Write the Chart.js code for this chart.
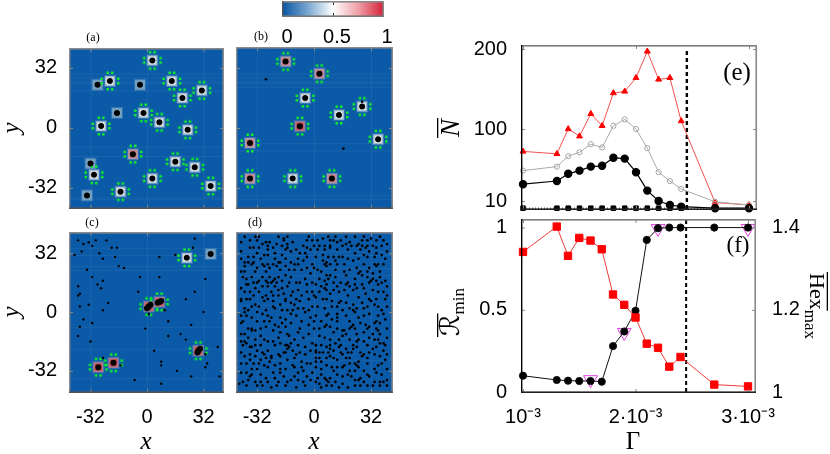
<!DOCTYPE html>
<html>
<head>
<meta charset="utf-8">
<title>Panels</title>
<script src="https://cdn.jsdelivr.net/npm/chart.js@4"></script>
<style>
    html, body { margin: 0; padding: 0; background: #fff; }
    #stage { position: relative; width: 830px; height: 454px; overflow: hidden; }
    #stage canvas { position: absolute; left: 0; top: 0; }
</style>
</head>
<body>
<div id="stage"></div>
<script>
// panel (a)
const aWhite = [[3,36],[-21,25],[14,25],[31,20],[20,16],[-2,8],[7,3],[-26,1],[23,-1],[16,-18],[27,-21],[-30,-25],[3,-27],[-15,-34],[36,-31]];
const aPink = [[-8,-14]];
const aFaint = [[-28,23],[-4,23],[-17,8],[-32,-19],[-34,-36]];
const aDots = [];

// panel (b)
const bWhite = [[-5,16],[27,11.5],[14,7],[36,-6],[-12,-27]];
const bPink = [[-16,35.5],[3,29],[-36,-8],[-36,-27],[10,-27]];
const bRed = [[-8,1]];
const bDots = [[-27,26],[16.5,-11],[27,14]];

// panel (c)
const cWhite = [[22.5,29.5]];
const cFaint = [[36,31.6]];
const cRed = [[1,3],[7,5.5],[29,-21],[-27.6,-30],[-19,-27.6]];
const cCores = [[0,2],[2,4],[6,5],[8,6],[28.5,-22],[30,-20]];
const cDots = [[-39,39],[-36,37],[-33,38],[-31,36],[-29,39],[-23,39],[-37,33],[-20,35],[-17,35],[-41,31],[-27,32],[-25,29],[-18,30],[7,30],[16,31],[26,35],[27,40],[-34,23],[-16,25],[-13,24],[-31,19],[-25,17],[-4,19],[7,19],[33,18],[-28,15],[-26,13],[-39,14],[-5,11],[-38,10],[-39,9],[27,11],[22,7],[-33,4],[-22,5],[-38,3],[-25,1],[10,1],[1,-1],[32,0],[-36,-4],[-31,-6],[25,-7],[12,-5],[-38,-8],[-1,-9],[-39,-13],[12,-13],[19,-12],[22,-15],[-32,-16],[40,-19],[33,-23],[4,-21],[-25,-25],[8,-27],[8,-29],[34,-28],[33,-30],[-15,-29],[17,-32],[25,-35],[41,-35],[-7,-37],[8,-39]];

// panel (d)
const dDots = [
    [-39,41],[-33,41],[-31,41],[-36,39],[-32,39],[-20,41],[-17,40],[-15,41],[-4,39],[-3,41],[-25,38],[-27,38],[-21,37],[-17,39],[-15,37],[-18,36],[-36,35],[-31,35],[-34,35],[-26,36],[-15,35],[-16,34],[-6,36],[-4,35],[0,36],[-8,32],[-5,32],[-4,30],[-26,34],[-22,32],[-32,32],[-37,30],[-34,30],[-30,29],[-26,31],[-22,29],[-19,27],[-20,27],[-26,26],[-28,25],[-39,27],[-37,27],[-39,25],[-35,26],[-29,26],[-23,26],[-13,27],[-11,26],[-9,29],[-9,26],[-16,25],[-11,23],[-1,26],[0,24],
    [-41,22],[-33,22],[-25,24],[-21,25],[-19,23],[-7,23],[-4,24],[-39,22],[-31,17],[-35,19],[-38,18],[-25,19],[-23,17],[-22,18],[-27,17],[-26,16],[-24,16],[-21,16],[-20,19],[-16,20],[-13,19],[-14,16],[-10,16],[-8,16],[-37,15],[-34,16],[-32,16],[-38,15],[-29,14],[-26,14],[-22,14],[-20,12],[-18,13],[-15,14],[-9,12],[-4,15],[-39,11],[-36,11],[-33,13],[-24,11],[-27,9],[-20,9],[-16,7],[-13,9],[-12,11],[-1,11],[0,9],[-41,7],[-38,7],[-41,6],[-36,7],[-29,8],[-26,7],[-23,6],[-19,4],[-16,6],[-13,5],[-11,4],[-8,6],[-3,7],[-39,2],[-37,1],[-33,4],[-31,3],[-28,6],[-23,3],[-27,1],[-22,2],[-15,1],[-12,1],[-6,2],[-1,3],
    [2,39],[5,40],[8,41],[9,39],[3,36],[6,36],[9,36],[11,39],[13,38],[15,39],[23,41],[25,37],[27,39],[30,39],[32,40],[35,39],[39,39],[18,37],[20,38],[21,36],[24,36],[30,36],[33,36],[29,35],[35,35],[38,36],[2,34],[6,34],[9,35],[13,34],[19,34],[26,34],[31,33],[35,32],[40,29],[1,30],[5,31],[8,30],[11,30],[14,30],[16,30],[19,29],[22,28],[25,29],[30,30],[34,30],[5,28],[7,27],[9,26],[13,26],[34,26],[36,26],[31,24],[35,25],[6,26],[7,25],[2,23],[17,22],[24,24],[26,22],[25,21],[7,20],[8,18],[6,17],[9,20],[30,22],[33,21],[23,18],[27,20],[33,18],[18,20],[19,16],[18,15],[20,14],[32,17],[27,15],[24,13],[22,12],[28,13],[31,16],[36,15],[38,16],[40,17],[1,15],[4,14],[6,13],[7,12],[9,10],[13,14],[3,11],[7,15],[14,11],[36,11],[41,14],[33,12],[5,7],[7,7],[10,6],[15,6],[10,3],[13,3],[31,7],[32,6],[40,7],[41,9],[22,4],[24,2],[22,1],[28,2],[34,4],[36,3],[38,1],[2,3],[6,2],[16,1],[14,5],
    [-39,0],[-38,-2],[-32,0],[-29,-1],[-26,-2],[-24,-3],[-28,-5],[-25,-5],[-22,-7],[-20,-8],[-13,-1],[-10,-2],[-5,0],[-2,-3],[0,-5],[-40,-5],[-41,-6],[-35,-9],[-35,-10],[-33,-10],[-30,-9],[-39,-12],[-41,-12],[-23,-10],[-19,-11],[-15,-12],[-14,-13],[-9,-11],[-6,-14],[-13,-6],[-8,-9],[0,-9],[-16,-8],[-37,-14],[-39,-16],[-38,-17],[-40,-18],[-33,-15],[-28,-15],[-26,-16],[-23,-16],[-22,-18],[-19,-17],[-15,-18],[-16,-18],[-13,-17],[-36,-19],[-33,-18],[-35,-19],[-1,-17],[1,-18],[-29,-22],[-32,-21],[-28,-23],[-39,-24],[-36,-23],[-33,-24],[-24,-24],[-20,-23],[-19,-24],[-17,-22],[-15,-20],[-16,-22],[-14,-19],[-8,-22],[-10,-23],[-5,-23],[1,-22],[-41,-28],[-38,-28],[-34,-28],[-30,-26],[-31,-28],[-28,-29],[-25,-27],[-24,-25],[-19,-28],[-15,-26],[-12,-29],[-4,-28],[-2,-28],[1,-27],[-35,-31],[-38,-33],[-41,-33],[-30,-34],[-26,-30],[-23,-33],[-19,-33],[-19,-31],[-11,-30],[-9,-33],[-6,-32],[-4,-35],[-35,-34],[-36,-35],[-40,-38],[-38,-40],[-42,-39],[-33,-38],[-30,-38],[-29,-40],[-26,-38],[-21,-40],[-20,-38],[-15,-38],[-13,-37],[-11,-35],[-9,-37],[-6,-38],[-5,-40],[1,-38],[-24,-41],[-32,-40],[-16,-40],[-10,-41],
    [1,-2],[7,-2],[8,-1],[13,-1],[13,-3],[23,0],[25,-3],[28,-2],[31,-1],[36,-2],[39,-1],[35,-5],[34,-6],[13,-5],[6,-8],[7,-7],[9,-8],[13,-9],[3,-9],[16,-10],[17,-10],[21,-8],[22,-7],[20,-9],[23,-9],[26,-6],[29,-7],[31,-8],[30,-9],[35,-9],[36,-10],[37,-6],[3,-13],[16,-13],[18,-12],[24,-12],[31,-14],[37,-12],[39,-17],[1,-18],[4,-18],[7,-19],[9,-15],[9,-18],[14,-15],[15,-18],[22,-18],[24,-16],[25,-15],[28,-16],[34,-15],[36,-15],[40,-18],[8,-22],[5,-22],[3,-22],[9,-20],[11,-21],[14,-19],[15,-22],[22,-20],[24,-19],[26,-22],[28,-23],[27,-24],[31,-22],[35,-19],[39,-21],[3,-25],[4,-27],[1,-25],[7,-25],[9,-24],[13,-26],[16,-23],[18,-25],[21,-22],[34,-23],[38,-28],[40,-26],[23,-28],[24,-29],[25,-27],[30,-28],[17,-29],[16,-30],[1,-30],[4,-31],[10,-30],[11,-32],[34,-31],[35,-33],[25,-30],[20,-32],[23,-32],[4,-34],[6,-36],[7,-37],[9,-36],[13,-34],[16,-35],[19,-34],[21,-35],[30,-34],[31,-35],[26,-36],[25,-37],[23,-37],[34,-38],[37,-38],[39,-38],[41,-37],[3,-39],[4,-41],[7,-40],[8,-38],[10,-40],[19,-41],[26,-40],[30,-40],[33,-40],[37,-40],[16,-39],[14,-41],
    [-41,38],[-29,37],[-23,35],[-12,38],[-10,34],[-1,39],[-41,33],[-28,31],[-18,31],[-13,33],[-2,34],[-41,29],[-34,27],[-16,29],[-6,28],[-32,24],[-27,22],[-14,23],[-2,21],[-40,19],[-29,19],[-18,17],[-5,18],[-1,16],[-41,13],[-31,11],[-17,10],[-7,9],[-4,11],[-34,9],[-23,9],[-10,7],[-35,3],[-18,1],[-9,2],[-3,1],
    [12,41],[18,41],[28,41],[37,41],[41,37],[16,36],[27,36],[41,33],[23,32],[28,31],[38,31],[12,28],[17,26],[28,26],[39,26],[4,22],[12,23],[20,23],[37,22],[12,19],[15,16],[30,19],[37,19],[11,16],[3,18],[23,15],[35,17],[17,12],[11,12],[29,10],[39,11],[19,9],[25,8],[35,7],[1,8],[18,5],[27,5],[30,3],[41,3],[20,2],
    [-41,-2],[-35,-3],[-19,-3],[-16,-4],[-7,-5],[-32,-5],[-37,-9],[-27,-8],[-18,-6],[-3,-7],[-30,-13],[-20,-14],[-11,-15],[-3,-12],[-41,-16],[-30,-18],[-9,-18],[-5,-19],[-41,-22],[-26,-21],[-12,-21],[-2,-21],[-36,-26],[-27,-25],[-11,-25],[-7,-27],[-32,-31],[-22,-29],[-16,-31],[-7,-30],[-1,-33],[-27,-36],[-17,-35],[-2,-37],[-37,-37],[-22,-36],
    [4,-5],[10,-4],[18,-2],[20,-5],[40,-4],[11,-11],[28,-11],[33,-12],[41,-9],[6,-14],[20,-15],[41,-14],[12,-17],[18,-20],[30,-18],[37,-17],[1,-21],[19,-22],[33,-20],[41,-23],[11,-25],[20,-25],[30,-25],[37,-24],[7,-29],[13,-30],[20,-28],[36,-29],[41,-31],[28,-32],[38,-34],[2,-36],[12,-38],[23,-40],[28,-38],[41,-40]
];

// panels (e) and (f)
const gamma = [1.0e-3,1.3e-3,1.4e-3,1.5e-3,1.6e-3,1.7e-3,1.8e-3,1.9e-3,2.0e-3,2.1e-3,2.2e-3,2.3e-3,2.4e-3,2.7e-3,3.0e-3];
const nRed = [72,69,100,91,119,104,145,147,164,197,162,164,110,8,5];
const nGray = [48,53,66,71,81,77,104,112,100,76,46,35,25,9,5];
const nBlack = [31,35,44,48,53,54,64,63,46,23,10,5,3,1,1];
const nSquares = [1,1,1,1,1,1,1,1,1,1,1,1,1,1,1];
const rRed = [0.852,1.006,0.828,0.937,0.921,0.868,0.593,0.530,0.453,0.294,0.269,0.154,0.213,0.045,0.034];
const rBlack = [0.099,0.073,0.069,0.067,0.067,0.063,0.279,0.368,0.494,0.925,0.996,1,1,1,1];
const hexGamma = [1.6e-3,1.9e-3,2.2e-3,3.0e-3];
const hexMax = [1.03,1.145,1.398,1.398];
const gammaCritical = 2.45e-3;

const spaceTicks = [-32, 0, 32];
const gammaTicks = [1e-3, 2e-3, 3e-3];
const gammaLabels = ['10\u207B\u00B3', '2\u00B710\u207B\u00B3', '3\u00B710\u207B\u00B3'];
const nTicks = [10, 100, 200];
const rTicks = [0, 0.5, 1];
const hexTicks = [1, 1.2, 1.4];
const colorTicks = [0, 0.5, 1];

const serifFont = "'Liberation Serif', 'Times New Roman', serif";
const tickFont = { family: "'Liberation Sans', Arial, sans-serif", size: 20 };

function makeSprite(fill, edge, withGreen) {
    const sprite = document.createElement('canvas');
    sprite.width = 24;
    sprite.height = 24;
    const c = sprite.getContext('2d');
    c.fillStyle = 'rgba(130,175,205,0.3)';
    c.fillRect(6, 6, 12, 12);
    c.fillStyle = edge;
    c.fillRect(7, 7, 10, 10);
    c.fillStyle = fill;
    c.fillRect(8.5, 8.5, 7, 7);
    if (withGreen) {
        c.fillStyle = '#10ee2a';
        [[8.5, 2.5], [13, 2.5], [8.5, 19], [13, 19], [2.5, 8.5], [2.5, 13], [19, 8.5], [19, 13]].forEach(([x, y]) => c.fillRect(x, y, 2.5, 2.5));
    }
    return sprite;
}

const whiteSprite = makeSprite('#f4f8fa', '#9dbacd', true);
const pinkSprite = makeSprite('#d9727c', '#a79aaa', true);
const redSprite = makeSprite('#c93a48', '#b07c8e', true);
const faintSprite = makeSprite('#7ea6c4', '#6f9cc0', false);

const toPoints = (list) => list.map(([x, y]) => ({ x, y }));

function drawLabel(ctx, label) {
    ctx.save();
    ctx.translate(label.x, label.y);
    ctx.rotate((label.rotation || 0) * Math.PI / 180);
    ctx.fillStyle = label.color || '#000';
    ctx.textBaseline = 'alphabetic';
    ctx.textAlign = 'left';
    const parts = label.parts;
    let total = 0;
    parts.forEach((part) => {
        ctx.font = part.font;
        total += ctx.measureText(part.text).width;
    });
    let cursor = -total / 2;
    parts.forEach((part) => {
        ctx.font = part.font;
        const w = ctx.measureText(part.text).width;
        ctx.fillText(part.text, cursor, part.dy || 0);
        if (part.over) {
            ctx.fillRect(cursor - 1, -part.over, w + 2, 1.3);
        }
        cursor += w;
    });
    ctx.restore();
}

function panelPlugin(panel) {
    return {
        id: 'panelDecor',
        beforeDatasetsDraw(chart) {
            const { ctx, chartArea: area, scales } = chart;
            if (panel.heat) {
                ctx.fillStyle = '#0b5aa8';
                ctx.fillRect(area.left, area.top, area.width, area.height);
                ctx.fillStyle = 'rgba(255,255,255,0.06)';
                panel.streaks.forEach((value) => {
                    ctx.fillRect(area.left, scales.y.getPixelForValue(value), area.width, 1);
                });
                panel.xTicks.forEach((value) => {
                    ctx.fillRect(scales.x.getPixelForValue(value), area.top, 1, area.height);
                });
            }
            if (panel.colorbar) {
                const grad = ctx.createLinearGradient(area.left - 4, 0, area.right - 4, 0);
                grad.addColorStop(0, '#0b56a3');
                grad.addColorStop(0.25, '#7aa8d0');
                grad.addColorStop(0.5, '#ffffff');
                grad.addColorStop(0.75, '#efa0a8');
                grad.addColorStop(1, '#d4243a');
                ctx.fillStyle = grad;
                ctx.fillRect(area.left - 4, area.top, area.width, area.height);
            }
        },
        afterDraw(chart) {
            const { ctx, chartArea: area, scales } = chart;
            const offset = panel.colorbar ? 4 : 0;
            ctx.save();
            ctx.fillStyle = panel.tickColor || '#8a8a8a';
            (panel.xTicks || []).forEach((value) => {
                const px = scales.x.getPixelForValue(value) - offset;
                ctx.fillRect(px, area.top, 1, 3);
                ctx.fillRect(px, area.bottom - 3, 1, 3);
            });
            (panel.yTicks || []).forEach((value) => {
                const py = scales.y.getPixelForValue(value);
                ctx.fillRect(area.left, py, 3, 1);
                if (!panel.hasRightAxis) {
                    ctx.fillRect(area.right - 3, py, 3, 1);
                }
            });
            (panel.y1Ticks || []).forEach((value) => {
                ctx.fillRect(area.right - 3, scales.y1.getPixelForValue(value), 3, 1);
            });
            const f = panel.frame;
            const l = area.left - offset, r = area.right - offset;
            ctx.fillStyle = f.top;
            ctx.fillRect(l - 1, area.top - 1, r - l + 2, 1.6);
            ctx.fillStyle = f.right;
            ctx.fillRect(r - 0.6, area.top - 1, 1.6, area.height + 2);
            ctx.fillStyle = f.left;
            ctx.fillRect(l - 1, area.top - 1, 1.4, area.height + 2);
            ctx.fillStyle = f.bottom;
            ctx.fillRect(l - 1, area.bottom - 0.6, r - l + 2, 1.6);
            ctx.restore();
            (panel.labels || []).forEach((label) => drawLabel(ctx, label));
        },
    };
}

// width kept for the axes around the plot area, the padding makes up the rest
const axisRoom = { left: 60, bottom: 50, right: 70 };

function addChart(panel, datasets, scales) {
    const canvas = document.createElement('canvas');
    canvas.width = 830;
    canvas.height = 454;
    document.getElementById('stage').appendChild(canvas);
    const box = panel.box;
    const roomLeft = panel.colorbar ? 0 : axisRoom.left;
    const roomRight = panel.hasRightAxis ? axisRoom.right : 0;
    return new Chart(canvas, {
        type: 'scatter',
        data: { datasets },
        options: {
            responsive: false,
            animation: false,
            layout: {
                padding: {
                    left: box.left - roomLeft,
                    top: box.top,
                    right: 830 - box.right - roomRight,
                    bottom: 454 - box.bottom - axisRoom.bottom,
                },
            },
            plugins: { legend: { display: false }, tooltip: { enabled: false } },
            scales,
        },
        plugins: [panelPlugin(panel)],
    });
}

function linearAxis(position, range, ticks, labels, padding) {
    return {
        type: 'linear',
        position,
        min: range[0],
        max: range[1],
        grid: { display: false, drawTicks: false },
        border: { display: false },
        afterBuildTicks(scale) {
            scale.ticks = ticks.map((value) => ({ value }));
        },
        afterFit(scale) {
            if (position === 'left' || position === 'right') {
                scale.width = axisRoom[position];
            } else {
                scale.height = axisRoom.bottom;
            }
        },
        ticks: {
            display: Boolean(labels),
            autoSkip: false,
            maxRotation: 0,
            padding,
            color: '#000',
            font: tickFont,
            callback: (value, index) => (labels ? labels[index] : ''),
        },
    };
}

const heatFrame = { top: '#8a8a8a', right: '#8a8a8a', left: '#8a8a8a', bottom: '#555' };
const plotFrame = { top: '#7d7d7d', right: '#8a8a8a', left: '#000', bottom: '#222' };
const spaceLabels = spaceTicks.map(String);

function heatPanel(panel, sprites, coreLists, dots, dotRadius) {
    const datasets = [
        { data: toPoints(dots), backgroundColor: '#000', borderWidth: 0, pointRadius: dotRadius, clip: false },
        { data: toPoints(coreLists), backgroundColor: '#000', borderWidth: 0, pointRadius: 3 },
    ];
    sprites.forEach(([sprite, list]) => {
        datasets.push({ data: toPoints(list), pointStyle: sprite, pointRadius: 12 });
    });
    panel.heat = true;
    panel.xTicks = spaceTicks;
    panel.yTicks = spaceTicks;
    panel.frame = heatFrame;
    addChart(panel, datasets, {
        x: linearAxis('bottom', panel.xRange, spaceTicks, panel.xLabels ? spaceLabels : null, 13),
        y: linearAxis('left', panel.yRange, spaceTicks, panel.yLabels ? spaceLabels : null, 13),
    });
}

const axisFont = `italic 25px ${serifFont}`;
const smallFont = `12px ${serifFont}`;

heatPanel({
    box: { left: 70, top: 49, right: 223, bottom: 208 },
    xRange: [-43.6, 43],
    yRange: [-42.7, 42.1],
    yLabels: true,
    streaks: [29, 27, 25, 24, 20, -10, -15, -37, -38],
    labels: [
        { x: 93, y: 41, parts: [{ text: '(a)', font: smallFont }] },
        { x: 19, y: 128, rotation: -90, parts: [{ text: 'y', font: axisFont }] },
    ],
}, [[whiteSprite, aWhite], [pinkSprite, aPink], [faintSprite, aFaint]], [...aWhite, ...aPink, ...aFaint], aDots, 1.3);

heatPanel({
    box: { left: 237, top: 48, right: 392, bottom: 208 },
    xRange: [-43.3, 43.8],
    yRange: [-42.7, 42.7],
    streaks: [29, 27, 25, 24, 22, -8, -12, -36, -38],
    labels: [
        { x: 261, y: 40, parts: [{ text: '(b)', font: smallFont }] },
    ],
}, [[whiteSprite, bWhite], [pinkSprite, bPink], [redSprite, bRed]], [...bWhite, ...bPink, ...bRed], bDots, 1.3);

heatPanel({
    box: { left: 70, top: 233, right: 223, bottom: 392 },
    xRange: [-43.6, 43],
    yRange: [-43.5, 43],
    xLabels: true,
    yLabels: true,
    streaks: [35, 31, 25, 23, -8, -20, -36],
    labels: [
        { x: 92, y: 226, parts: [{ text: '(c)', font: smallFont }] },
        { x: 19, y: 312, rotation: -90, parts: [{ text: 'y', font: axisFont }] },
        { x: 146, y: 449, parts: [{ text: 'x', font: axisFont }] },
    ],
}, [[whiteSprite, cWhite], [faintSprite, cFaint], [redSprite, cRed]], [...cWhite, ...cFaint, ...cRed, ...cCores], cDots, 1.2);

heatPanel({
    box: { left: 237, top: 233, right: 392, bottom: 392 },
    xRange: [-43.3, 43.8],
    yRange: [-43.5, 43],
    xLabels: true,
    streaks: [33, 31, 24, 20, 4, -14, -26],
    labels: [
        { x: 255, y: 226, parts: [{ text: '(d)', font: smallFont }] },
        { x: 314, y: 449, parts: [{ text: 'x', font: axisFont }] },
    ],
}, [], [], dDots, 1.35);

// colour bar
addChart({
    box: { left: 287, top: 2, right: 387, bottom: 16 },
    colorbar: true,
    xTicks: [0.5],
    frame: { top: '#8a8a8a', right: '#8a8a8a', left: '#555', bottom: '#777' },
    tickColor: '#333',
}, [], {
    x: linearAxis('bottom', [0, 1], colorTicks, ['0', '0.5', '1'], 9),
    y: { display: false },
});

// panel (e)
const gammaRange = [0.991e-3, 3.062e-3];
addChart({
    box: { left: 522, top: 46, right: 756, bottom: 209 },
    xTicks: gammaTicks,
    yTicks: nTicks,
    frame: plotFrame,
    labels: [
        { x: 737, y: 80, parts: [{ text: '(e)', font: `25px ${serifFont}` }] },
        { x: 459, y: 128, rotation: -90, parts: [{ text: 'N', font: `italic 27px ${serifFont}`, over: 22 }] },
    ],
}, [
    { data: gamma.map((x, i) => ({ x, y: nSquares[i] })), showLine: true, borderColor: '#000', borderWidth: 1, borderDash: [1, 2], backgroundColor: '#000', pointStyle: 'rect', pointRadius: 3.2, clip: false },
    { data: gamma.map((x, i) => ({ x, y: nBlack[i] })), showLine: true, borderColor: '#000', borderWidth: 1.2, backgroundColor: '#000', pointRadius: 3.6, clip: false },
    { data: gamma.map((x, i) => ({ x, y: nGray[i] })), showLine: true, borderColor: '#aaa', borderWidth: 1, backgroundColor: 'transparent', pointBorderColor: '#a5a5a5', pointRadius: 2.6, clip: false },
    { data: gamma.map((x, i) => ({ x, y: nRed[i] })), showLine: true, borderColor: '#f25050', borderWidth: 1, backgroundColor: '#f00', pointBorderColor: '#f00', pointStyle: 'triangle', pointRadius: 3.4, clip: false },
    { data: [{ x: gammaCritical, y: 0 }, { x: gammaCritical, y: 198 }], showLine: true, borderColor: '#000', borderWidth: 2.4, borderDash: [4, 3], pointRadius: 0 },
], {
    x: linearAxis('bottom', gammaRange, gammaTicks, null, 0),
    y: linearAxis('left', [0, 203.75], nTicks, nTicks.map(String), 15),
});

// panel (f)
addChart({
    box: { left: 522, top: 220, right: 755, bottom: 392 },
    xTicks: gammaTicks,
    yTicks: rTicks,
    y1Ticks: hexTicks,
    hasRightAxis: true,
    frame: plotFrame,
    labels: [
        { x: 738, y: 252, parts: [{ text: '(f)', font: `23px ${serifFont}` }] },
        { x: 459, y: 312, rotation: -90, parts: [{ text: '\u211B', font: `27px 'DejaVu Sans'`, over: 22 }, { text: 'min', font: `17px ${serifFont}`, dy: 5 }] },
        { x: 810, y: 306, rotation: 90, parts: [{ text: 'Hex', font: `22px ${serifFont}`, over: 18 }, { text: 'max', font: `17px ${serifFont}`, dy: 5 }] },
        { x: 633, y: 449, parts: [{ text: '\u0393', font: `25px ${serifFont}` }] },
    ],
}, [
    { data: gamma.map((x, i) => ({ x, y: rRed[i] })), showLine: true, borderColor: '#f03a3a', borderWidth: 1, backgroundColor: '#f00', pointBorderColor: '#f00', pointStyle: 'rect', pointRadius: 5.2, clip: false },
    { data: gamma.map((x, i) => ({ x, y: rBlack[i] })), showLine: true, borderColor: '#111', borderWidth: 1, backgroundColor: '#000', pointRadius: 3.6, clip: false },
    { data: hexGamma.map((x, i) => ({ x, y: hexMax[i] })), yAxisID: 'y1', showLine: false, backgroundColor: 'transparent', pointBackgroundColor: 'transparent', pointBorderColor: '#e040e0', pointBorderWidth: 1, pointStyle: 'triangle', pointRotation: 180, pointRadius: 8, clip: false },
    { data: [{ x: gammaCritical, y: 0 }, { x: gammaCritical, y: 1.046 }], showLine: true, borderColor: '#000', borderWidth: 2, borderDash: [4, 3], pointRadius: 0 },
], {
    x: linearAxis('bottom', gammaRange, gammaTicks, gammaLabels, 13),
    y: linearAxis('left', [0, 1.046], rTicks, ['0', '0.5', '1'], 15),
    y1: linearAxis('right', [1, 1.4186], hexTicks, ['1', '1.2', '1.4'], 17),
});
</script>
</body>
</html>
